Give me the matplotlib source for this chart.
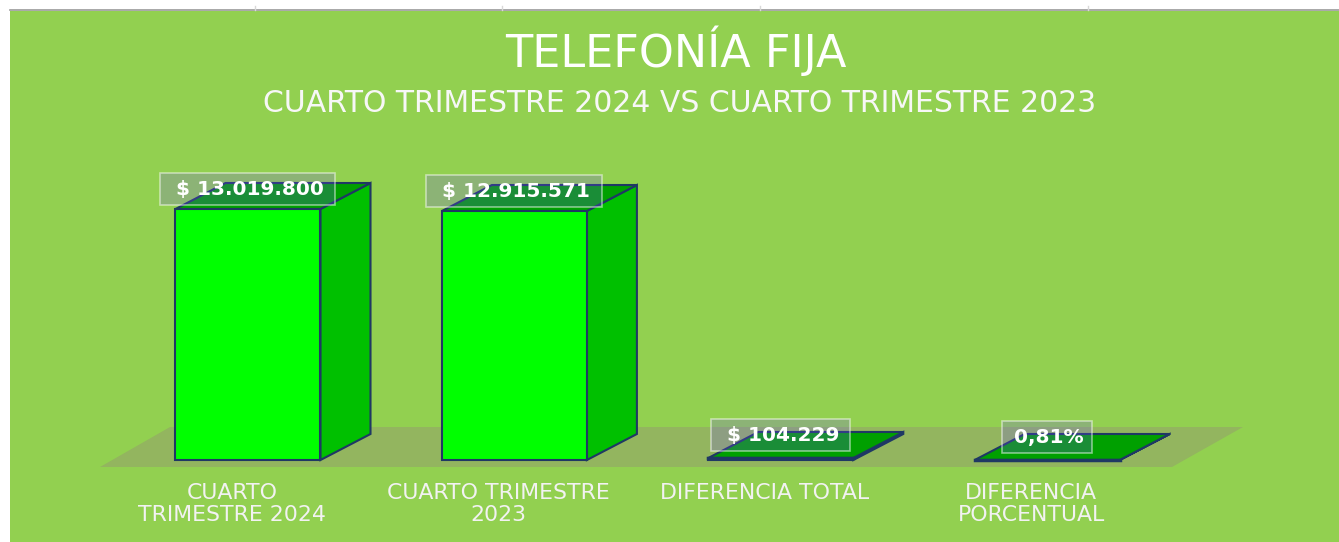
import matplotlib
matplotlib.use("Agg")
from matplotlib import pyplot as plt
from matplotlib.patches import Polygon, Rectangle

plt.rcParams["font.family"] = ["DejaVu Sans"]

categories = ["CUARTO\nTRIMESTRE 2024", "CUARTO TRIMESTRE\n2023",
              "DIFERENCIA TOTAL", "DIFERENCIA\nPORCENTUAL"]
values = [13019800, 12915571, 104229, 0.81]
value_labels = ["$ 13.019.800", "$ 12.915.571", "$ 104.229", "0,81%"]
box_widths = [175, 176, 139, 90]

GREEN_BG = "#92D050"
FRONT = "#00FF00"
SIDE = "#00C000"
TOP = "#00A000"
EDGE = "#1F3864"

# pixels per category and pixels per unit of value
PX_X = 266.4
PX_Y = 251 / 13019800
X0 = 248
BASE = 460
W, H = 1339, 542
BAR_W = 145 / PX_X
DX = 50 / PX_X
DY = 26 / PX_Y


def xpx(p):
    return (p - X0) / PX_X


def ypx(p):
    return (BASE - p) / PX_Y


fig = plt.figure(figsize=(W / 100, H / 100), dpi=100, facecolor="white")
ax = fig.add_axes([0, 0, 1, 1])
ax.set_xlim(xpx(0), xpx(W))
ax.set_ylim(ypx(H), ypx(0))
ax.axis("off")

# background panel and the rough top border
ax.add_patch(Rectangle((xpx(10), ypx(H)), xpx(W) - xpx(10), ypx(10.5) - ypx(H),
                       facecolor=GREEN_BG, edgecolor="none", zorder=0))
ax.plot([xpx(10), xpx(W)], [ypx(10), ypx(10)], color="#9A9A9A", lw=1.2, zorder=1)
for p in [255, 502, 760, 1088]:
    ax.plot([xpx(p), xpx(p)], [ypx(6), ypx(10)], color="#D8D8D8", lw=1, zorder=1)

# floor
ax.add_patch(Polygon([(xpx(100), ypx(467)), (xpx(1172), ypx(467)),
                      (xpx(1243), ypx(427)), (xpx(170), ypx(427))],
                     facecolor="#93B55F", edgecolor="none", zorder=1))

for i, v in enumerate(values):
    left = i - BAR_W / 2
    right = i + BAR_W / 2
    ax.add_patch(Polygon([(right, 0), (right + DX, DY), (right + DX, v + DY), (right, v)],
                         facecolor=SIDE, edgecolor=EDGE, lw=1.5, zorder=2))
    ax.add_patch(Polygon([(left, v), (right, v), (right + DX, v + DY), (left + DX, v + DY)],
                         facecolor=TOP, edgecolor=EDGE, lw=1.5, zorder=2))
    ax.bar(i, v, width=BAR_W, color=FRONT, edgecolor=EDGE, lw=1.5, zorder=3)
    if v < 1e6:
        ax.plot([left, right], [v, v], color=EDGE, lw=2.5, zorder=3)

    # data label with its translucent box
    off = 20.5 if v > 1e6 else 23
    cy = v + off / PX_Y
    bw = box_widths[i] / PX_X
    bh = 32 / PX_Y
    ax.add_patch(Rectangle((i - bw / 2, cy - bh / 2), bw, bh,
                           facecolor=(0.48, 0.3, 1, 0.22), edgecolor=(1, 1, 1, 0.5),
                           lw=1.2, zorder=4))
    ax.text(i + 2 / PX_X, cy - 0.5 / PX_Y, value_labels[i], color="white", fontsize=14.5,
            fontweight="bold", ha="center", va="center", zorder=5)

    ax.annotate(categories[i], (i, 0), xytext=(-16, -23), textcoords="offset pixels",
                color="#F2F2F2", fontsize=15.8, ha="center", va="top", linespacing=1.14,
                zorder=5)

ax.text(xpx(676), ypx(51), "TELEFONÍA FIJA", color="white", fontsize=32,
        ha="center", va="center", zorder=5)
ax.text(xpx(680), ypx(104), "CUARTO TRIMESTRE 2024 VS CUARTO TRIMESTRE 2023",
        color="#F7F7F7", fontsize=21.5, ha="center", va="center", zorder=5)

fig.savefig("out.png", dpi=100)
